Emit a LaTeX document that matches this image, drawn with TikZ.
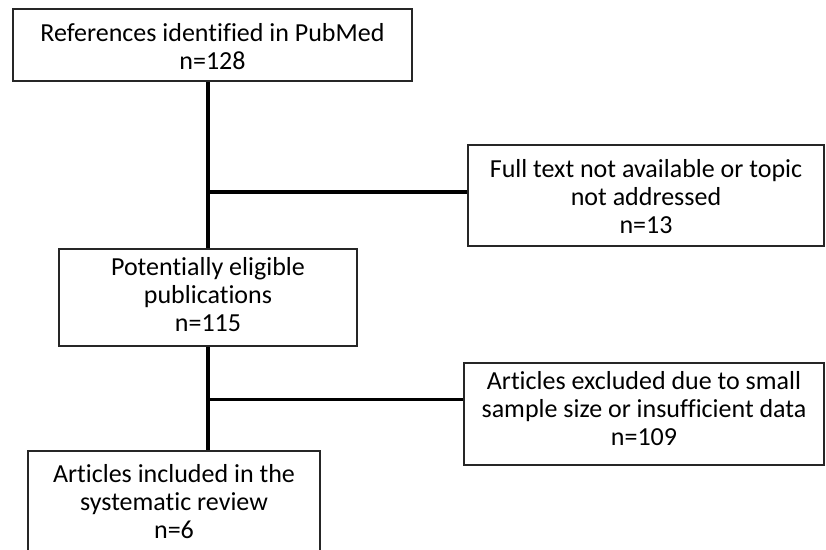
\documentclass[tikz,border=0pt]{standalone}
\usepackage{fontspec}
\setmainfont{Carlito}[Ligatures={NoCommon}]
\tikzset{
  boxnode/.style={draw=black!85, line width=2pt, rectangle, inner sep=0pt},
  txtnode/.style={align=center, inner sep=0pt, font=\fontsize{26}{28}\selectfont, text=black},
  conn/.style={draw=black, line width=3.2pt}
}
\begin{document}
\begin{tikzpicture}[x=1pt,y=-1pt]
\useasboundingbox (0,0) rectangle (826,549);
\clip (0,0) rectangle (826,549);
% boxes
\node[boxnode, minimum width=399pt, minimum height=72pt] (b1) at (212.5,45) {};
\node[boxnode, minimum width=356pt, minimum height=101pt] (r1) at (646,195.5) {};
\node[boxnode, minimum width=298pt, minimum height=97pt] (b2) at (208,297.5) {};
\node[boxnode, minimum width=360pt, minimum height=102pt] (r2) at (644,414) {};
\node[boxnode, minimum width=292pt, minimum height=120pt] (b3) at (174,511) {};
% texts
\node[txtnode] (t1) at (212.5,47) {References identified in PubMed\\n=128};
\node[txtnode] (t2) at (646,197) {Full text not available or topic\\not addressed\\n=13};
\node[txtnode] (t3) at (208,295) {Potentially eligible\\publications\\n=115};
\node[txtnode] (t4) at (644,408.5) {Articles excluded due to small\\sample size or insufficient data\\n=109};
\node[txtnode] (t5) at (174,501.5) {Articles included in the\\systematic review\\n=6};
% junction coordinates
\coordinate (j1) at (208,192);
\coordinate (j2) at (208,399.5);
% connectors
\draw[conn] (b1.south -| j1) -- (b2.north -| j1);
\draw[conn] (b2.south -| j2) -- (b3.north -| j2);
\draw[conn] (j1) -- (r1.west |- j1);
\draw[conn] (j2) -- (r2.west |- j2);
\end{tikzpicture}
\end{document}
